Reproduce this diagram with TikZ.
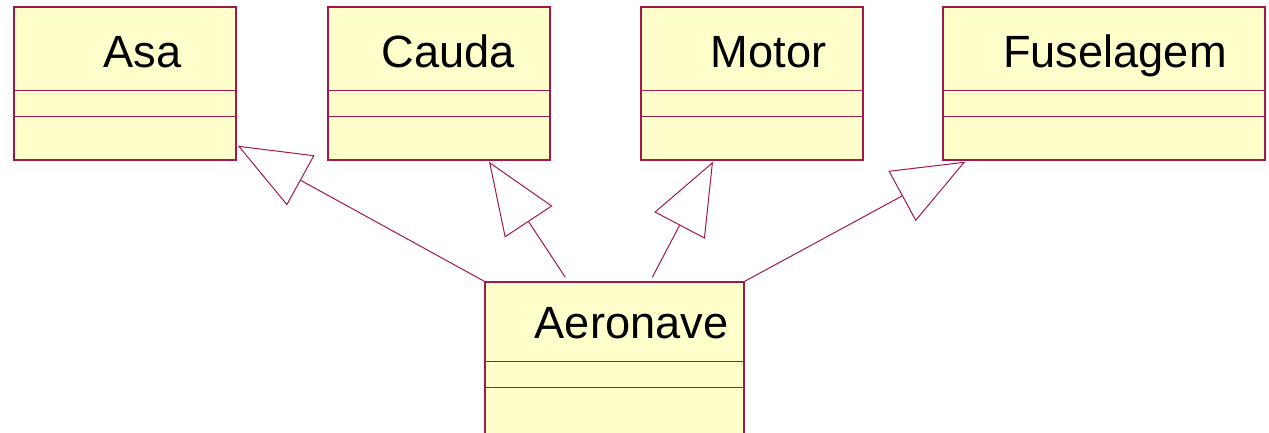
\documentclass[tikz,border=0pt]{standalone}
\usepackage{fontspec}
\setmainfont{Liberation Sans}
\usetikzlibrary{arrows.meta,calc}
\definecolor{umlborder}{HTML}{A3184A}
\definecolor{umlfill}{HTML}{FFFFCC}

\begin{document}
\begin{tikzpicture}[
  x=0.5pt,
  y=-0.5pt,
  classbox/.style={draw=umlborder, fill=umlfill, line width=0.7pt,
                   inner sep=0pt, minimum height=76.5pt},
  classname/.style={anchor=base, inner sep=0pt, text=black,
                    font=\fontsize{22.6}{27}\selectfont},
  compart/.style={umlborder, line width=0.5pt},
  inherit/.style={umlborder, line width=0.5pt,
                  -{Triangle[open, length=36pt, width=28.5pt]}}
]
  % ---- page: 1269 x 433 px, one unit is one pixel ----------------------
  \clip (0,0) rectangle (1269,433);

  % ---- the four parts along the top ------------------------------------
  \node[classbox, minimum width=111pt] (asa)   at (125,83.5)  {};
  \node[classbox, minimum width=111pt] (cauda) at (439,83.5)  {};
  \node[classbox, minimum width=111pt] (motor) at (752,83.5)  {};
  \node[classbox, minimum width=161pt] (fus)   at (1104,83.5) {};

  % ---- the whole, cut by the lower edge --------------------------------
  \node[classbox, minimum width=129.5pt] (aer) at (614.5,358.5) {};

  % ---- compartments: name / attributes / operations ---------------------
  \foreach \c/\a/\b in {asa/84/110.5, cauda/84/110.5, motor/84/110.5,
                        fus/84/110.5, aer/80/106.5}
  {
    \draw[compart] ($(\c.north west)+(0,\a)$) -- ($(\c.north east)+(0,\a)$);
    \draw[compart] ($(\c.north west)+(0,\b)$) -- ($(\c.north east)+(0,\b)$);
  }

  % ---- class names -----------------------------------------------------
  \node[classname] (asaname)   at (142.5,68)  {Asa};
  \node[classname] (caudaname) at (448,68)    {Cauda};
  \node[classname] (motorname) at (768.5,68)  {Motor};
  \node[classname] (fusname)   at (1115,68)   {Fuselagem};
  \node[classname] (aername)   at (631.5,338) {Aeronave};

  % ---- generalisation arrows -------------------------------------------
  \draw[inherit] (aer.north west) -- ($(asa.south east)+(1,-15)$);
  \draw[inherit] ($(aer.north west)+(81,-4)$) -- ($(cauda.south)+(50,1)$);
  \draw[inherit] ($(aer.north west)+(168,-4)$) -- ($(motor.south)+(-39,1)$);
  \draw[inherit] (aer.north east) -- ($(fus.south west)+(23,1)$);
\end{tikzpicture}
\end{document}
